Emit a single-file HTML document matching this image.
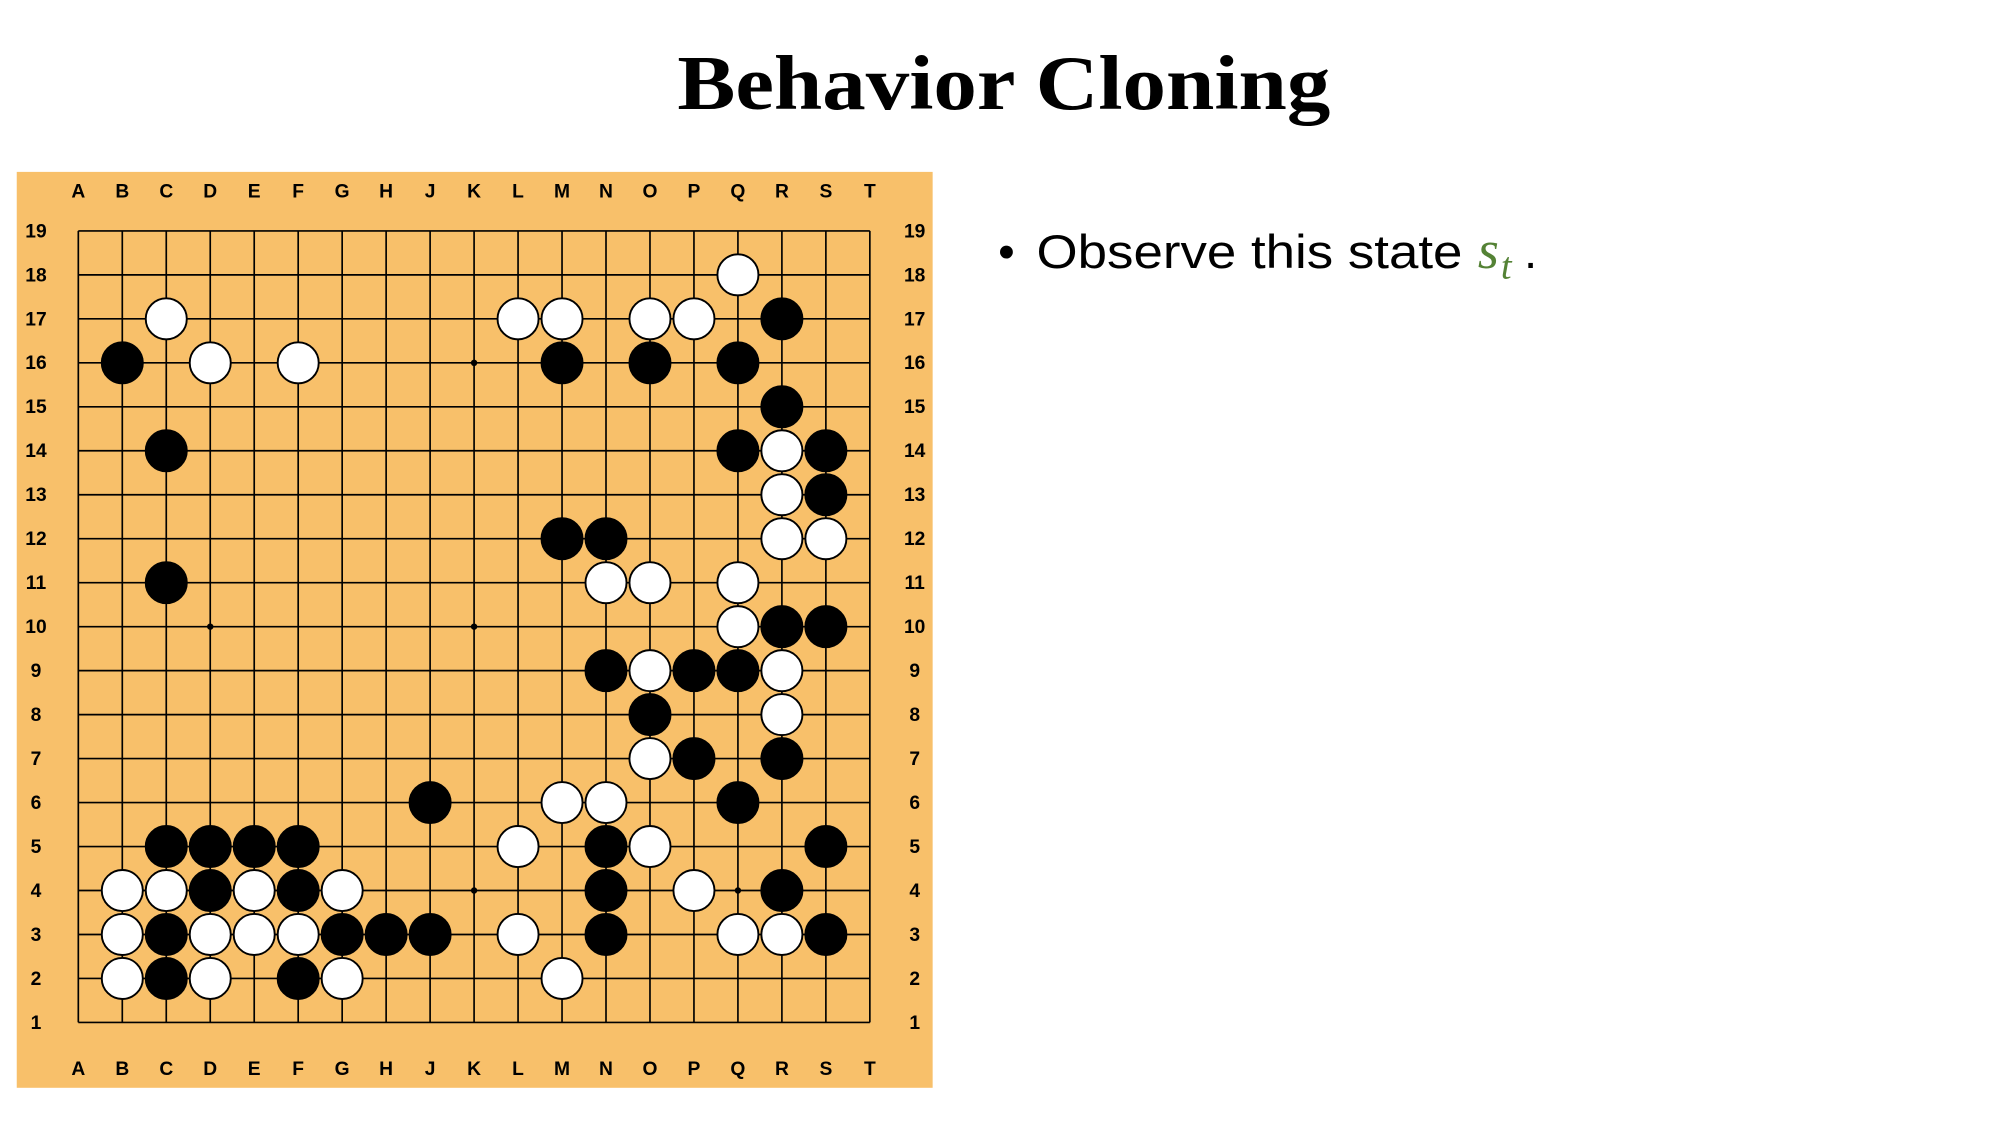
<!DOCTYPE html>
<html><head><meta charset="utf-8"><style>
html,body{margin:0;padding:0;background:#fff;}
svg{display:block;}
</style></head><body>
<svg id="s" xmlns="http://www.w3.org/2000/svg" width="2000" height="1125" viewBox="0 0 1559 877">
<rect width="1559" height="877" fill="#fff"/>
<text x="528" y="85" textLength="509" lengthAdjust="spacingAndGlyphs" font-family="Liberation Serif, serif" font-weight="bold" font-size="60" fill="#000">Behavior Cloning</text>
<text x="778" y="209" font-family="Liberation Sans, sans-serif" font-size="37" fill="#000">•</text>
<text x="808" y="209" textLength="332" lengthAdjust="spacingAndGlyphs" font-family="Liberation Sans, sans-serif" font-size="37" fill="#000">Observe this state</text>
<text x="1152" y="209" font-family="Liberation Serif, serif" font-style="italic" fill="#548235" font-size="42">s</text>
<text x="1170" y="217" font-family="Liberation Serif, serif" font-style="italic" fill="#548235" font-size="30">t</text>
<text x="1188" y="209" font-family="Liberation Sans, sans-serif" font-size="37" fill="#000">.</text>
<rect x="13" y="134" width="714" height="714" fill="#f8c06a"/>
<g id="g"></g>
</svg>
<script>
var g=document.getElementById('g'),NS='http://www.w3.org/2000/svg';
function el(t,a,txt){var e=document.createElementNS(NS,t);for(var k in a)e.setAttribute(k,a[k]);if(txt)e.textContent=txt;g.appendChild(e);return e;}
var X0=61,Y0=180,D=34.28;
var cols="ABCDEFGHJKLMNOPQRST";
function cx(c){return X0+cols.indexOf(c)*D;}
function cy(r){return Y0+(19-r)*D;}
for(var i=0;i<19;i++){
 el('line',{x1:X0,y1:Y0+i*D,x2:X0+18*D,y2:Y0+i*D,stroke:'#000','stroke-width':1.3});
 el('line',{x1:X0+i*D,y1:Y0,x2:X0+i*D,y2:Y0+18*D,stroke:'#000','stroke-width':1.3});
 var f={'font-family':'Liberation Sans, sans-serif','font-weight':'bold','font-size':15,'text-anchor':'middle',fill:'#000'};
 f.x=X0+i*D;f.y=154;el('text',f,cols[i]);
 f.y=838;el('text',f,cols[i]);
 var n=19-i;
 f={'font-family':'Liberation Sans, sans-serif','font-weight':'bold','font-size':15,'text-anchor':'middle',fill:'#000',x:28,y:Y0+i*D+5};
 el('text',f,String(n));f.x=713;el('text',f,String(n));
}
["D16","K16","Q16","D10","K10","Q10","D4","K4","Q4"].forEach(function(p){el('circle',{cx:cx(p[0]),cy:cy(+p.slice(1)),r:2.5,fill:'#000'});});
var st={
18:"Q:W",
17:"C:W L:W M:W O:W P:W R:B",
16:"B:B D:W F:W M:B O:B Q:B",
15:"R:B",
14:"C:B Q:B R:W S:B",
13:"R:W S:B",
12:"M:B N:B R:W S:W",
11:"C:B N:W O:W Q:W",
10:"Q:W R:B S:B",
9:"N:B O:W P:B Q:B R:W",
8:"O:B R:W",
7:"O:W P:B R:B",
6:"J:B M:W N:W Q:B",
5:"C:B D:B E:B F:B L:W N:B O:W S:B",
4:"B:W C:W D:B E:W F:B G:W N:B P:W R:B",
3:"B:W C:B D:W E:W F:W G:B H:B J:B L:W N:B Q:W R:W S:B",
2:"B:W C:B D:W F:B G:W M:W"};
for(var r in st){st[r].split(' ').forEach(function(s){var c=s[0],w=s[2]=='W';
 el('circle',{cx:cx(c),cy:cy(+r),r:16,fill:w?'#fff':'#000',stroke:'#000','stroke-width':1.5});});}
</script>
</body></html>
